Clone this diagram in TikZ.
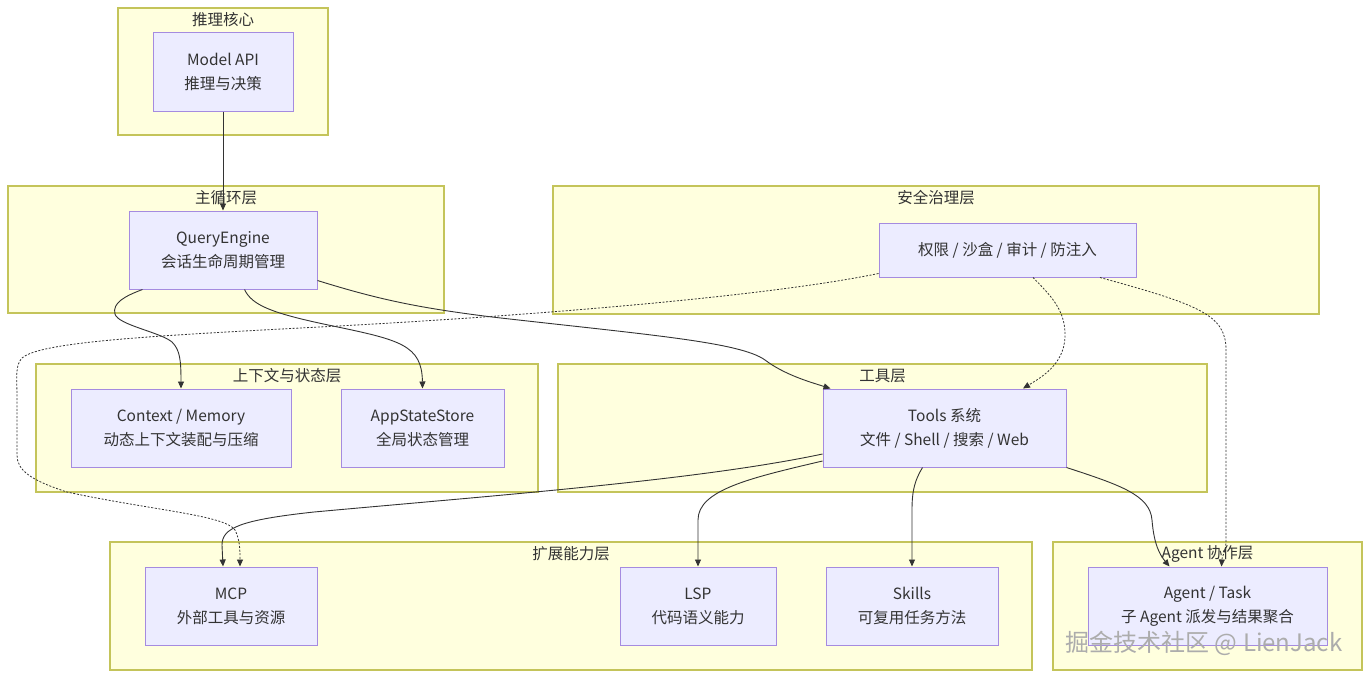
\documentclass[tikz,border=0pt]{standalone}
\usepackage{fontspec}
\setmainfont{Noto Sans CJK SC}
\usetikzlibrary{arrows.meta,calc}
\definecolor{layerfill}{HTML}{FFFFDE}
\definecolor{layerline}{HTML}{C4C45A}
\definecolor{boxfill}{HTML}{ECECFF}
\definecolor{boxline}{HTML}{A58BE0}
\definecolor{ink}{HTML}{333333}
\begin{document}
\begin{tikzpicture}[x=1pt,y=-1pt,>={Triangle[length=7pt,width=6pt]},font=\fontsize{15.5}{24}\selectfont,text=ink]
    \tikzstyle{layer}=[fill=layerfill,draw=layerline,line width=1.2pt]
    \tikzstyle{layertitle}=[inner sep=0pt,anchor=center]
    \tikzstyle{block}=[rectangle,fill=boxfill,draw=boxline,line width=1pt,align=center,inner sep=0pt]
    \tikzstyle{flow}=[draw=ink,line width=0.9pt,->]
    \tikzstyle{guard}=[draw=ink,line width=0.8pt,dash pattern=on 2pt off 1.6pt,->]
    \useasboundingbox (0,0) rectangle (1370,678);

    % subgraphs
    \foreach \name/\xa/\ya/\xb/\yb/\title in {core/118/8/328/135/推理核心, loop/8/186/444/313/主循环层,
            safe/553/186/1319/314/安全治理层, ctxl/36/364/538/492/上下文与状态层,
            tooll/558/364/1207/492/工具层, extl/110/542/1032/670/扩展能力层,
            agentl/1053/542/1362/670/Agent 协作层}
        {
        \draw[layer] (\xa,\ya) rectangle (\xb,\yb);
        \node[layertitle] (T-\name) at ({(\xa+\xb)/2},{\ya+12}) {\title};
        }

    % nodes
    \node[block,minimum width=140,minimum height=79] (model) at (223,71.5) {Model API\\推理与决策};
    \node[block,minimum width=188,minimum height=78] (qe) at (223,250) {QueryEngine\\会话生命周期管理};
    \node[block,minimum width=257,minimum height=54] (guard) at (1007.5,250) {权限 / 沙盒 / 审计 / 防注入};
    \node[block,minimum width=220,minimum height=78] (ctx) at (181,428) {Context / Memory\\动态上下文装配与压缩};
    \node[block,minimum width=163,minimum height=78] (state) at (422.5,428) {AppStateStore\\全局状态管理};
    \node[block,minimum width=243,minimum height=78] (tools) at (944.5,428) {Tools 系统\\文件 / Shell / 搜索 / Web};
    \node[block,minimum width=172,minimum height=78] (mcp) at (231,606) {MCP\\外部工具与资源};
    \node[block,minimum width=156,minimum height=78] (lsp) at (698,606) {LSP\\代码语义能力};
    \node[block,minimum width=172,minimum height=78] (skills) at (912,606) {Skills\\可复用任务方法};
    \node[block,minimum width=239,minimum height=78] (agent) at (1207.5,606) {Agent / Task\\子 Agent 派发与结果聚合};

    % solid edges
    \draw[flow] (model.south) -- (qe.north);
    \draw[flow] ($(qe.south west)+(14,0)$) .. controls (125,296) and (112,303) .. (115,314)
        .. controls (118,325) and (160,332) .. (172,342) .. controls (180,350) and (181,360) .. (ctx.north);
    \draw[flow] ($(qe.south west)+(116,0)$) .. controls (252,305) and (270,313) .. (333,326)
        .. controls (400,340) and (422,345) .. (state.north);
    \draw[flow] ($(qe.south east)+(0,-9)$) .. controls (380,300) and (420,308) .. (492,317)
        .. controls (650,335) and (740,342) .. (765,360) .. controls (785,375) and (810,382) .. ($(tools.north west)+(8,0)$);
    \draw[flow] ($(tools.west)+(0,26)$) .. controls (700,480) and (500,495) .. (314,512)
        .. controls (240,520) and (222,528) .. (222,545) -- ($(mcp.north)+(-8,0)$);
    \draw[flow] ($(tools.west)+(0,33)$) .. controls (750,478) and (698,490) .. (698,520) -- (lsp.north);
    \draw[flow] ($(tools.south west)+(100,0)$) .. controls (915,480) and (912,490) .. (912,510) -- (skills.north);
    \draw[flow] (tools.south east) .. controls (1120,485) and (1150,495) .. (1152,520)
        .. controls (1154,545) and (1160,555) .. ($(agent.north west)+(82,0)$);

    % dotted edges
    \draw[guard] ($(guard.south)+(25.5,0)$) .. controls (1050,295) and (1066,310) .. (1065,337)
        .. controls (1064,365) and (1040,378) .. ($(tools.north)+(78.5,0)$);
    \draw[guard] ($(guard.south west)+(0,-4)$) .. controls (760,298) and (500,318) .. (300,328)
        .. controls (150,336) and (40,342) .. (22,358) .. controls (15,366) and (17,375) .. (17,400)
        -- (17,455) .. controls (17,470) and (30,480) .. (67,492) .. controls (150,510) and (225,515) .. (235,530)
        .. controls (240,540) and (240,550) .. ($(mcp.north)+(9,0)$);
    \draw[guard] ($(guard.south)+(92.5,0)$) .. controls (1200,305) and (1226,315) .. (1226,350)
        -- (1226,540) .. controls (1226,552) and (1222,556) .. ($(agent.north west)+(134,0)$);

    % watermark
    \node[text=gray!65,font=\fontsize{24}{28}\selectfont,inner sep=0pt] (mark) at (1204,643) {掘金技术社区 @ LienJack};
\end{tikzpicture}
\end{document}
